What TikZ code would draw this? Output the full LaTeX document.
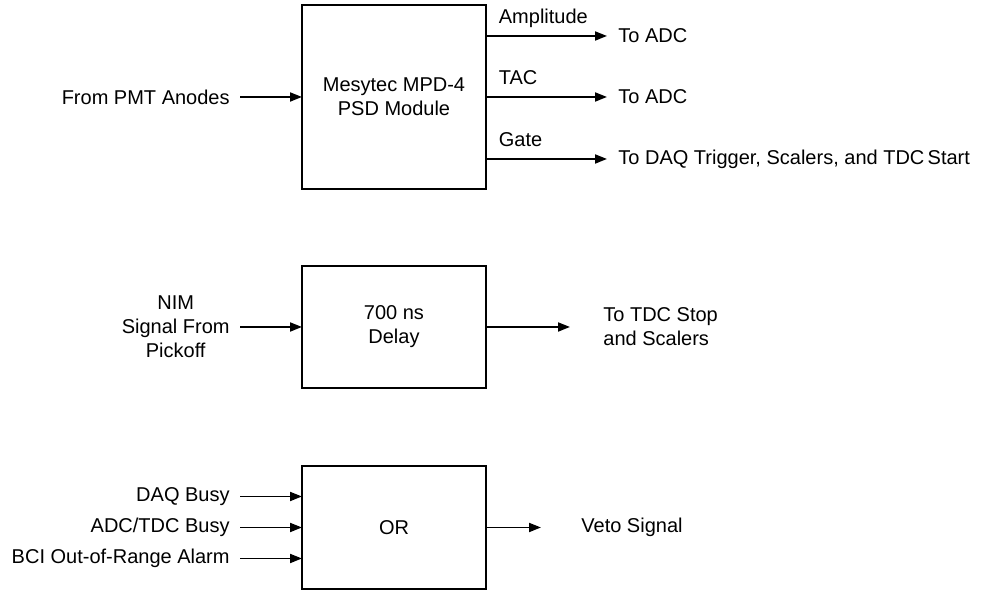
\documentclass[tikz,border=0pt]{standalone}
\usepackage{fontspec}
\setmainfont{Liberation Sans}
\usetikzlibrary{arrows.meta,positioning}
\tikzset{
    every node/.append style={align=center},
    module/.style={rectangle,draw=black,line width=1.2pt,minimum width=92pt,outer sep=0pt,
        font=\fontsize{10}{12}\selectfont},
    lbl/.style={font=\fontsize{10}{12}\selectfont,inner sep=2.5pt},
    src/.style={lbl,inner xsep=5pt},
    tag/.style={font=\fontsize{10}{12}\selectfont,anchor=base west,inner sep=0pt,
        xshift=6pt,yshift=6pt},
    sig/.style={-{Triangle[length=6pt,width=4.5pt]},line width=0.9pt}
}
\begin{document}
\begin{tikzpicture}[x=0.5pt,y=-0.5pt]
    \useasboundingbox (0,0) rectangle (987,592);

    % the three NIM modules
    \node[module,minimum height=92pt] (psd) at (394,97) {Mesytec MPD-4\\PSD Module};
    \node[module,minimum height=61pt,below=38.5pt of psd] (delay) {700 ns\\Delay};
    \node[module,minimum height=61.5pt,below=39pt of delay] (orbox) {OR};

    % PSD module: anode input, three outputs
    \node[src,left=31pt of psd,anchor=east] (pmt) {From PMT Anodes};
    \node[lbl,right=63.5pt of psd,yshift=30.5pt] (adcA) {To ADC};
    \node[lbl,right=63.5pt of psd] (adcB) {To ADC};
    \node[lbl,right=63.5pt of psd,yshift=-31pt] (trig) {To DAQ Trigger, Scalers, and TDC\,Start};

    \draw[sig] (pmt) -- (psd);
    \draw[sig,shorten >=3pt] (psd.east |- adcA) -- node[tag,pos=0] {Amplitude} (adcA);
    \draw[sig,shorten >=3pt] (psd.east |- adcB) -- node[tag,pos=0] {TAC} (adcB);
    \draw[sig,shorten >=3pt] (psd.east |- trig) -- node[tag,pos=0] {Gate} (trig);

    % delay
    \node[src,left=31pt of delay] (nim) {NIM\\Signal From\\Pickoff};
    \node[lbl,right=56pt of delay,align=left] (stop) {To TDC Stop\\and Scalers};

    \draw[sig] (nim) -- (delay);
    \draw[sig,shorten >=14pt] (delay) -- (stop);

    % veto OR
    \node[src,left=31pt of orbox,yshift=15.5pt] (daq) {DAQ Busy};
    \node[src,left=31pt of orbox] (busy) {ADC/TDC Busy};
    \node[src,left=31pt of orbox,yshift=-15.5pt] (bci) {BCI Out-of-Range Alarm};
    \node[lbl,right=45pt of orbox] (veto) {Veto Signal};

    \draw[sig] (daq) -- (daq -| orbox.west);
    \draw[sig] (busy) -- (busy -| orbox.west);
    \draw[sig] (bci) -- (bci -| orbox.west);
    \draw[sig,shorten >=17.5pt] (orbox) -- (veto);
\end{tikzpicture}
\end{document}
